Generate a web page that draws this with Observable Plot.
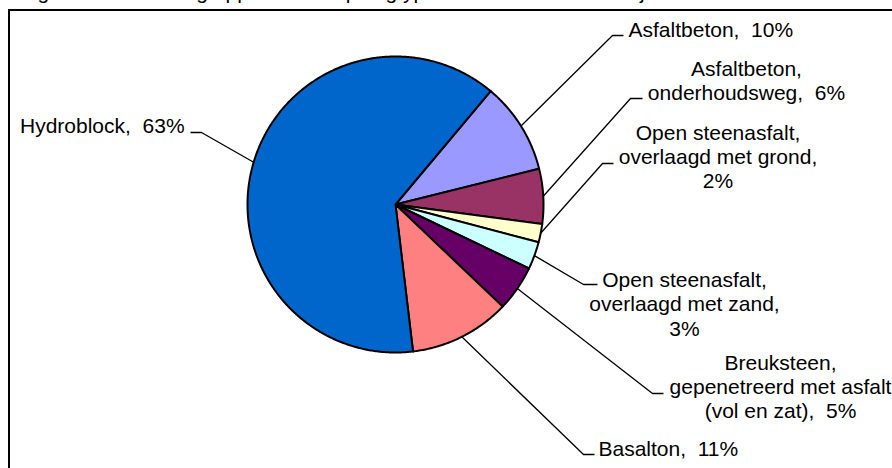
<!DOCTYPE html>
<html><head><meta charset="utf-8">
<script src="https://cdn.jsdelivr.net/npm/d3@7"></script>
<script src="https://cdn.jsdelivr.net/npm/@observablehq/plot@0.6"></script>
<style>
html,body{margin:0;padding:0;background:#fff;}
#page{position:relative;width:892px;height:468px;overflow:hidden;font-family:"Liberation Sans",Arial,sans-serif;}
#title{position:absolute;left:20px;top:-19px;font-size:21px;line-height:21px;white-space:pre;color:#000;}
#frame{position:absolute;left:8px;top:8.5px;width:1000px;height:1000px;border:2px solid #000;box-sizing:border-box;}
#chart{position:absolute;left:0;top:0;}
#chart svg text{white-space:pre;}
</style></head><body>
<div id="page">
  <div id="title">Figuur 4.1 Verdeling oppervlakte toplaagtype in het beschouwde dijkvak</div>
  <div id="frame"></div>
  <div id="chart"></div>
</div>
<script>
// ---- data ----
const categories = [
  "Asfaltbeton",
  "Asfaltbeton, onderhoudsweg",
  "Open steenasfalt, overlaagd met grond",
  "Open steenasfalt, overlaagd met zand",
  "Breuksteen, gepenetreerd met asfalt (vol en zat)",
  "Basalton",
  "Hydroblock"
];
const values = [10, 6, 2, 3, 5, 11, 63];
const colors = ["#9999FF", "#993366", "#FFFFCC", "#CCFFFF", "#660066", "#FF8080", "#0066CC"];
const labelLines = [
  ["Asfaltbeton,  10%"],
  ["Asfaltbeton,", "onderhoudsweg,  6%"],
  ["Open steenasfalt,", "overlaagd met grond,", "2%"],
  ["Open steenasfalt,", "overlaagd met zand,", "3%"],
  ["Breuksteen,", "gepenetreerd met asfalt", "(vol en zat),  5%"],
  ["Basalton,  11%"],
  ["Hydroblock,  63%"]
];

// ---- layout (pixels) ----
const W = 892, H = 468, CX = 395, CY = 204, R = 148, START = 40, LINE_H = 24.2;
const labelLayout = [
  {elbow: [612, 35],  end: 623, x: 628,   anchor: "start",  y: 36},
  {elbow: [630, 98],  end: 642, x: 746,   anchor: "middle", y: 75},
  {elbow: [602, 163], end: 613, x: 717.5, anchor: "middle", y: 139.3},
  {elbow: [583, 284], end: 597, x: 684,   anchor: "middle", y: 286.7},
  {elbow: [652, 393], end: 663, x: 780,   anchor: "middle", y: 369.5},
  {elbow: [583, 454], end: 594, x: 598,   anchor: "start",  y: 455},
  {elbow: [201, 132], end: 190, x: 19.5,  anchor: "start",  y: 132.3}
];
const ux = px => (px - CX) / R;
const uy = py => (CY - py) / R;
const rad = d => d * Math.PI / 180;

// ---- geometry from data ----
const total = d3.sum(values);
let acc = START;
const slices = values.map((v, i) => {
  const a0 = acc, a1 = acc + v / total * 360; acc = a1;
  return {cat: categories[i], a0, a1, mid: (a0 + a1) / 2};
});
const slicePts = [];
slices.forEach(s => {
  slicePts.push({cat: s.cat, x: 0, y: 0});
  const n = Math.max(2, Math.ceil((s.a1 - s.a0) / 0.5));
  for (let k = 0; k <= n; k++) {
    const t = rad(s.a0 + (s.a1 - s.a0) * k / n);
    slicePts.push({cat: s.cat, x: Math.sin(t), y: Math.cos(t)});
  }
  slicePts.push({cat: s.cat, x: 0, y: 0});
});
const leaderPts = [];
slices.forEach((s, i) => {
  const L = labelLayout[i];
  const t = rad(s.mid);
  leaderPts.push({cat: s.cat, x: Math.sin(t), y: Math.cos(t)});
  leaderPts.push({cat: s.cat, x: ux(L.elbow[0]), y: uy(L.elbow[1])});
  leaderPts.push({cat: s.cat, x: ux(L.end), y: uy(L.elbow[1])});
});
const textRows = [];
labelLines.forEach((lines, i) => {
  const L = labelLayout[i];
  lines.forEach((t, j) => textRows.push({text: t, anchor: L.anchor, x: ux(L.x), y: uy(L.y + j * LINE_H)}));
});

const font = '"Liberation Sans", Arial, sans-serif';
const textMark = anchor => Plot.text(textRows.filter(d => d.anchor === anchor), {
  x: "x", y: "y", text: "text", textAnchor: anchor, lineAnchor: "bottom",
  fontSize: 21, fontFamily: font, fill: "#000"
});

const chart = Plot.plot({
  width: W, height: H, margin: 0,
  x: {domain: [ux(0), ux(W)], axis: null},
  y: {domain: [uy(H), uy(0)], axis: null},
  color: {domain: categories, range: colors},
  style: {background: "transparent", fontFamily: font, fontSize: "21px", overflow: "visible"},
  marks: [
    Plot.line(slicePts, {x: "x", y: "y", z: "cat", fill: "cat", stroke: "#000", strokeWidth: 2, strokeLinejoin: "round"}),
    Plot.line(leaderPts, {x: "x", y: "y", z: "cat", stroke: "#000", strokeWidth: 1.3, strokeLinejoin: "miter", strokeLinecap: "butt"}),
    textMark("start"),
    textMark("middle")
  ]
});
document.getElementById("chart").appendChild(chart);
</script>
</body></html>
